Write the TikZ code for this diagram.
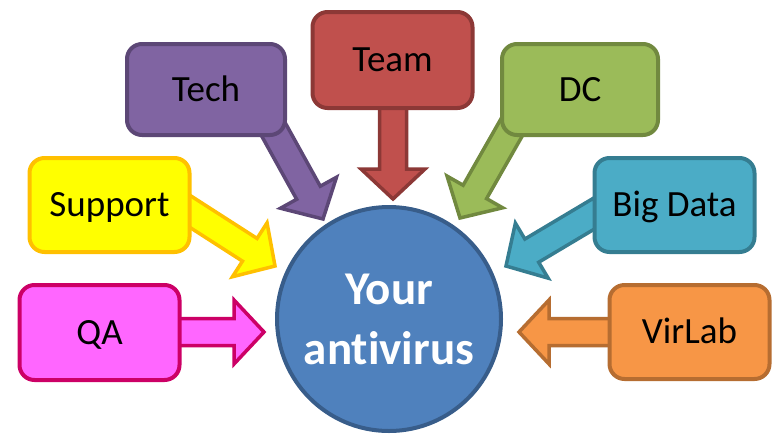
\documentclass[tikz,border=0pt]{standalone}
\usepackage{fontspec}
\setmainfont{Carlito}[Ligatures=NoCommon]
\usetikzlibrary{calc,backgrounds}
\definecolor{techF}{HTML}{8064A2}\definecolor{techD}{HTML}{5C4776}
\definecolor{teamF}{HTML}{C0504D}\definecolor{teamD}{HTML}{8C3836}
\definecolor{dcF}{HTML}{9BBB59}\definecolor{dcD}{HTML}{71893F}
\definecolor{supF}{HTML}{FFFF00}\definecolor{supD}{HTML}{FFC000}
\definecolor{qaF}{HTML}{FF66FF}\definecolor{qaD}{HTML}{CC0066}
\definecolor{bdF}{HTML}{4BACC6}\definecolor{bdD}{HTML}{357D91}
\definecolor{vlF}{HTML}{F79646}\definecolor{vlD}{HTML}{B66D31}
\definecolor{avF}{HTML}{4F81BD}\definecolor{avD}{HTML}{385D8A}
\newcommand\blockarrow[3]{%
  \coordinate (ba-h) at ($(#2)!30pt!(#1)$);
  \draw[#3, line width=3.5pt, line join=miter]
    ($(#1)!13.5pt!90:(#2)$) -- ($(ba-h)!13.5pt!-90:(#1)$) -- ($(ba-h)!32pt!-90:(#1)$) -- (#2)
    -- ($(ba-h)!32pt!90:(#1)$) -- ($(ba-h)!13.5pt!90:(#1)$) -- ($(#1)!13.5pt!-90:(#2)$) -- cycle;
}
\tikzset{
  box/.style={rectangle, rounded corners=15pt, line width=4pt, minimum width=160pt,
    minimum height=94pt, font=\fontsize{37}{40}\selectfont, text=black, inner sep=0pt,
    text height=23.5pt, text depth=0pt},
}
\begin{document}
\begin{tikzpicture}[x=1pt,y=-1pt]
\useasboundingbox (0,0) rectangle (773,437);
% boxes
\node[box, fill=techF, draw=techD, minimum width=158pt, minimum height=91pt] (tech) at (206,89.5) {Tech};
\node[box, fill=teamF, draw=teamD, minimum height=96pt] (team) at (392.5,60) {Team};
\node[box, fill=dcF, draw=dcD, minimum width=156pt, minimum height=91pt] (dc) at (580,89.5) {DC};
\node[box, fill=supF, draw=supD] (sup) at (109.5,205) {Support};
\node[box, fill=qaF, draw=qaD, minimum height=95pt] (qa) at (99.5,332.5) {QA};
\node[box, fill=bdF, draw=bdD] (bd) at (674.5,205) {Big Data};
\node[box, fill=vlF, draw=vlD] (vl) at (689.5,332) {VirLab};
% centre
\node[circle, fill=avF, draw=avD, line width=4pt, minimum size=224pt, inner sep=0pt,
  align=center, text=white, font=\fontsize{47}{60}\selectfont\bfseries] (av) at (389,319) {Your\\antivirus};
% arrow end points
\coordinate (tech-s) at (271,125); \coordinate (tech-t) at (323,219);
\coordinate (team-s) at (393,100); \coordinate (team-t) at (393,199);
\coordinate (dc-s) at (513,125);   \coordinate (dc-t) at (460,218);
\coordinate (sup-s) at (180,205);  \coordinate (sup-t) at (275,266);
\coordinate (qa-s) at (170,332);   \coordinate (qa-t) at (264,332);
\coordinate (bd-s) at (600,210);   \coordinate (bd-t) at (506,266);
\coordinate (vl-s) at (620,332);   \coordinate (vl-t) at (519,332);
\begin{scope}[on background layer]
\blockarrow{tech-s}{tech-t}{fill=techF, draw=techD}
\blockarrow{team-s}{team-t}{fill=teamF, draw=teamD}
\blockarrow{dc-s}{dc-t}{fill=dcF, draw=dcD}
\blockarrow{sup-s}{sup-t}{fill=supF, draw=supD}
\blockarrow{qa-s}{qa-t}{fill=qaF, draw=qaD}
\blockarrow{bd-s}{bd-t}{fill=bdF, draw=bdD}
\blockarrow{vl-s}{vl-t}{fill=vlF, draw=vlD}
\end{scope}
\end{tikzpicture}
\end{document}
